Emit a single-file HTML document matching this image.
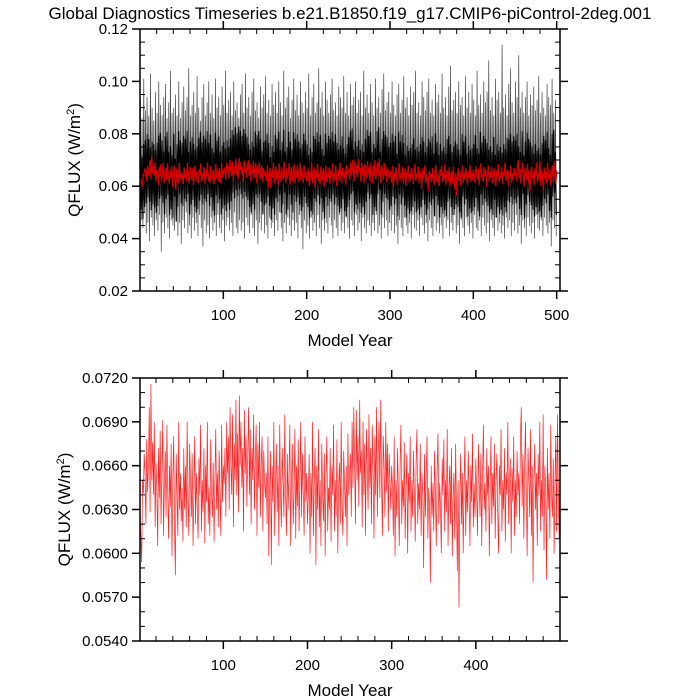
<!DOCTYPE html>
<html><head><meta charset="utf-8"><style>
html,body{margin:0;padding:0;background:#fff;width:700px;height:700px;overflow:hidden;}
svg{display:block;font-family:"Liberation Sans",sans-serif;}
</style></head><body>
<svg id="chart" width="700" height="700" xmlns="http://www.w3.org/2000/svg">
<text x="350" y="19" text-anchor="middle" font-size="17">Global Diagnostics Timeseries b.e21.B1850.f19_g17.CMIP6-piControl-2deg.001</text>
<g id="top"></g>
<g id="bot"></g>
</svg>
<script>
// annual-mean QFLUX, units of 1e-4 W/m2
const annualMean = [
630,612,594,650,641,668,655,620,678,642,660,700,628,716,650,676,640,690,618,662,645,605,672,638,684,620,655,691,612,648,670,625,688,640,610,660,632,675,598,650,680,620,585,668,640,612,690,630,655,622,
645,608,672,630,660,618,690,640,612,675,650,625,668,605,642,680,620,655,632,610,665,640,688,615,650,628,672,607,660,635,690,620,645,612,678,640,625,662,608,650,685,630,655,618,670,642,612,688,635,660,
648,672,625,690,655,680,630,700,662,640,695,618,675,650,705,640,682,628,708,660,690,645,672,615,698,655,680,632,668,700,640,685,620,672,650,695,630,662,688,612,675,645,690,625,660,680,615,670,648,638,
655,620,680,598,645,670,592,660,635,690,612,650,675,628,660,605,688,640,618,672,650,625,695,640,612,668,630,655,688,605,650,675,620,642,685,610,660,632,678,615,650,690,625,668,640,612,680,635,655,620,
640,668,600,655,625,690,612,648,672,592,660,630,685,618,650,605,675,640,622,668,598,655,680,615,645,630,672,608,660,640,688,615,650,625,678,600,645,662,620,690,635,612,670,648,625,660,605,682,640,655,
668,625,690,645,700,660,620,698,650,680,632,705,655,670,618,690,640,675,612,685,660,630,695,645,672,620,688,655,610,680,640,700,625,665,690,638,705,650,612,680,660,625,690,642,675,615,668,650,630,660,
645,612,680,598,650,625,672,640,605,660,688,620,650,632,676,610,645,668,600,655,635,680,615,650,625,670,640,608,662,685,620,648,630,675,612,655,640,590,668,625,650,680,610,645,632,580,660,625,648,615,
670,640,605,655,682,620,648,632,600,665,640,678,615,650,628,685,605,645,660,620,672,598,640,655,610,675,632,588,650,563,640,668,620,655,600,645,680,612,650,628,670,640,605,660,635,682,618,648,625,665,
640,612,675,650,625,668,605,655,688,630,648,615,672,640,660,598,645,680,620,655,632,675,610,650,668,628,600,660,640,685,615,650,630,672,608,655,640,690,620,648,665,600,658,635,680,612,650,625,670,640,
655,620,680,700,632,668,610,660,690,640,598,672,650,625,685,612,660,580,648,675,630,655,605,668,640,690,615,650,625,695,602,660,645,582,672,630,655,610,688,640,625,665,600,650,680,615,695,640,610,660];
// monthly extremes per 2-year block, units of 1e-4 W/m2
const monthlyHigh = [
930,860,1010,890,940,870,1030,900,850,960,880,1000,910,870,940,990,860,920,1040,880,
900,950,870,1000,860,920,980,890,940,1050,870,910,960,880,1020,900,850,940,990,870,
920,1000,880,950,860,1010,900,940,870,980,910,1040,880,930,960,870,1000,890,920,860,
950,990,880,1030,900,940,870,960,1010,890,920,860,980,900,950,1020,880,930,870,990,
910,960,880,1000,920,870,1040,900,940,980,860,930,1010,890,950,870,1000,920,880,960,
900,1030,870,940,990,880,920,1050,900,960,870,1000,930,880,950,1010,890,920,870,980,
940,900,1020,880,960,870,990,910,940,1000,880,930,960,870,1040,900,950,880,990,920,
870,1010,900,940,880,970,1030,890,920,960,880,1000,910,870,950,990,880,930,1020,900,
940,870,980,910,960,1040,880,920,870,1000,940,890,960,1010,880,930,870,990,920,950,
880,1030,900,940,870,980,1060,890,930,960,880,1000,910,940,870,1020,900,960,880,990,
930,870,1040,910,950,880,1000,920,960,1080,890,940,870,1010,930,960,880,1140,900,950,
870,990,1050,920,880,1000,940,1100,900,960,
880,940,1000,870,950,910,980,890,930,1020,880,960,900,870,990,940,910,1010,880,930];
const monthlyLow = [
470,440,500,420,460,390,480,450,410,470,430,490,350,460,420,480,440,400,470,450,
430,490,410,460,380,470,440,500,420,450,400,480,430,460,410,490,440,370,470,420,
450,400,480,430,460,410,490,440,420,470,390,450,480,430,460,410,500,440,420,470,
430,460,400,480,450,420,490,440,410,470,380,460,430,490,420,450,400,480,440,460,
410,470,430,500,440,390,460,420,480,450,410,470,430,460,400,490,440,360,470,420,
450,400,480,430,460,410,490,440,380,470,430,460,420,480,450,400,470,440,410,490,
430,460,420,480,440,400,470,450,410,490,430,460,390,480,440,420,470,450,410,460,
430,490,420,450,400,480,440,470,410,460,430,490,420,450,380,470,440,410,480,450,
420,460,400,490,440,430,470,410,480,450,420,460,390,470,440,410,490,430,460,420,
450,400,480,440,470,410,460,430,490,420,450,380,470,440,410,480,450,420,460,400,
490,440,430,470,410,480,450,420,460,390,470,440,410,490,430,460,420,450,400,480,
440,470,410,460,430,490,420,450,380,470,
440,410,480,450,420,460,400,490,440,430,470,410,480,450,420,460,370,470,440,410];
const topYTicks = ["0.02","0.04","0.06","0.08","0.10","0.12"];
const topXTicks = [100,200,300,400,500];
const botYTicks = ["0.0540","0.0570","0.0600","0.0630","0.0660","0.0690","0.0720"];
const botXTicks = [100,200,300,400];

const NS="http://www.w3.org/2000/svg";
function mk(parent,tag,attrs){const e=document.createElementNS(NS,tag);for(const k in attrs)e.setAttribute(k,attrs[k]);parent.appendChild(e);return e;}

function panel(g,cfg){
  const L=140,R=560,T=cfg.top,B=cfg.bottom;
  const sx=v=>L+(v-cfg.x0)/(cfg.x1-cfg.x0)*(R-L);
  const sy=v=>B-(v-cfg.y0)/(cfg.y1-cfg.y0)*(B-T);
  cfg.draw(g,sx,sy);
  const frame=mk(g,'rect',{x:L,y:T,width:R-L,height:B-T,fill:'none',stroke:'#000','stroke-width':1.5});
  
  
  for(let v=20;v<cfg.x1;v+=20){
    if(v<cfg.x0)continue;const x=sx(v);const maj=v%100===0;
    for(const [y,d] of [[B,-1],[T,1]]){
      const t=mk(g,'line',{x1:x,x2:x,y1:y,y2:maj?y-d*8:y+d*5,stroke:'#000','stroke-width':maj?1.5:1});
      
      
    }
  }
  cfg.xt.forEach(v=>{
    const t=mk(g,'text',{x:sx(v),y:B+29,'text-anchor':'middle','font-size':15});
    t.textContent=v;
    
    
  });
  const n=cfg.yt.length;
  for(let i=0;i<n;i++){
    const v=parseFloat(cfg.yt[i]);const y=sy(v);
    for(const [x,d] of [[L,-1],[R,1]]){
      const t=mk(g,'line',{x1:x,x2:x+d*8,y1:y,y2:y,stroke:'#000','stroke-width':1.5});
      
      
    }
    if(i<n-1){
      const step=(parseFloat(cfg.yt[i+1])-v)/cfg.minor;
      for(let k=1;k<cfg.minor;k++){const yy=sy(v+k*step);
        for(const [x,d] of [[L,1],[R,-1]]){
          const t=mk(g,'line',{x1:x,x2:x+d*5,y1:yy,y2:yy,stroke:'#000','stroke-width':1});
          
          
        }}
    }
    const lb=mk(g,'text',{x:L-12,y:y+5,'text-anchor':'end','font-size':15});
    lb.textContent=cfg.yt[i];
    
    
  }
  const xl=mk(g,'text',{x:(L+R)/2,y:B+55,'text-anchor':'middle','font-size':17});
  xl.textContent='Model Year';
  
  
  const cy=(T+B)/2, cx=cfg.ylx;
  const yl=mk(g,'text',{x:cx,y:cy,'text-anchor':'middle','font-size':17,transform:`rotate(-90 ${cx} ${cy})`});
  yl.innerHTML='QFLUX (W/m<tspan dy="-6" font-size="11">2</tspan><tspan dy="6">)</tspan>';
  
  
}

panel(document.getElementById('top'),{top:29,bottom:291,x0:0,x1:504,y0:0.02,y1:0.12,yt:topYTicks,xt:topXTicks,minor:4,ylx:80,
 draw:(g,sx,sy)=>{
  let pts=[];
  for(let i=0;i<monthlyHigh.length;i++){
    pts.push(sx(2*i+0.5).toFixed(2)+','+sy(monthlyHigh[i]/1e4).toFixed(2));
    pts.push(sx(2*i+1.5).toFixed(2)+','+sy(monthlyLow[i]/1e4).toFixed(2));
  }
  const bl=mk(g,'polyline',{points:pts.join(' '),fill:'none',stroke:'#444','stroke-width':0.7});
  
  
  let pts2=[];
  for(let i=0;i<monthlyHigh.length;i++){
    const a=annualMean[Math.min(2*i,annualMean.length-1)]/1e4;
    pts2.push(sx(2*i+0.5).toFixed(2)+','+sy(a+0.012).toFixed(2));
    pts2.push(sx(2*i+1.5).toFixed(2)+','+sy(a-0.012).toFixed(2));
  }
  const core=mk(g,'polyline',{points:pts2.join(' '),fill:'none',stroke:'#000','stroke-width':1.2});
  
  
  const rp=annualMean.map((v,i)=>sx(i+1).toFixed(2)+','+sy(v/1e4).toFixed(2)).join(' ');
  const rl=mk(g,'polyline',{points:rp,fill:'none',stroke:'#d00000','stroke-width':1.3});
  
  
 }});

panel(document.getElementById('bot'),{top:378,bottom:641,x0:1,x1:500,y0:0.054,y1:0.072,yt:botYTicks,xt:botXTicks,minor:3,ylx:70,
 draw:(g,sx,sy)=>{
  const rp=annualMean.map((v,i)=>sx(i+1).toFixed(2)+','+sy(v/1e4).toFixed(2)).join(' ');
  const rl=mk(g,'polyline',{points:rp,fill:'none',stroke:'#ff2020','stroke-width':0.7});
  
  
 }});
</script>
</body></html>
